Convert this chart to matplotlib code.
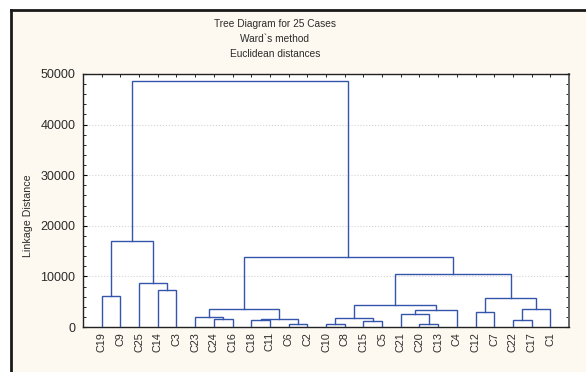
import matplotlib
matplotlib.use("Agg")
import matplotlib.pyplot as plt
from matplotlib.patches import Rectangle

# leaf labels in display order
labels = ["C19", "C9", "C25", "C14", "C3", "C23", "C24", "C16", "C18", "C11",
          "C6", "C2", "C10", "C8", "C15", "C5", "C21", "C20", "C13", "C4",
          "C12", "C7", "C22", "C17", "C1"]

# merges: ids 0..24 are leaves, each merge creates id 25, 26, ...
merge_a = [0, 3, 2, 25, 6, 5, 8, 10, 31, 30, 12, 14, 35, 17, 16, 39, 37, 20, 22, 43, 42, 41, 34, 28]
merge_b = [1, 4, 26, 27, 7, 29, 9, 11, 32, 33, 13, 15, 36, 18, 38, 19, 40, 21, 23, 24, 44, 45, 46, 47]
merge_h = [6070, 7380, 8700, 16930, 1520, 1980, 1320, 650, 1650, 3620, 650, 1250, 1840,
           650, 2570, 3360, 4280, 2900, 1380, 3560, 5670, 10410, 13770, 48560]

line_col = "#3355aa"
text_col = "#2b2b2b"
plt.rcParams["font.family"] = ["Liberation Sans", "DejaVu Sans"]
plt.rcParams["text.color"] = text_col
plt.rcParams["xtick.labelcolor"] = text_col
plt.rcParams["ytick.labelcolor"] = text_col

fig = plt.figure(figsize=(5.86, 3.72), dpi=100)
fig.patch.set_facecolor("white")

# cream panel with black top/left border
W, H = 586, 372
fig.patches.append(Rectangle((11 / W, 0), 1, 1 - 10 / H, transform=fig.transFigure,
                             facecolor="#fdf9f0", edgecolor="none", zorder=-10))
fig.add_artist(plt.Line2D([11 / W, 1], [1 - 10 / H] * 2, transform=fig.transFigure,
                          color="#1a1a1a", lw=2, zorder=-5))
fig.add_artist(plt.Line2D([11 / W] * 2, [0, 1 - 10 / H], transform=fig.transFigure,
                          color="#1a1a1a", lw=2, zorder=-5))

ax = fig.add_axes([83 / W, 45 / H, 486 / W, 253 / H])
ax.set_facecolor("white")

# positions / heights of every node
xpos = {i: i + 1 for i in range(len(labels))}
hgt = {i: 0 for i in range(len(labels))}
for k, (a, b, h) in enumerate(zip(merge_a, merge_b, merge_h)):
    nid = len(labels) + k
    ax.plot([xpos[a], xpos[a], xpos[b], xpos[b]], [hgt[a], h, h, hgt[b]],
            color=line_col, lw=1.0, solid_joinstyle="miter", zorder=3)
    xpos[nid] = (xpos[a] + xpos[b]) / 2
    hgt[nid] = h

ax.set_xlim(0, len(labels) + 1)
ax.set_ylim(0, 50000)
ax.set_xticks(range(1, len(labels) + 1))
ax.set_xticklabels(labels, rotation=90, fontsize=7.8)
ax.set_yticks(range(0, 50001, 10000))
ax.set_yticks(range(0, 50001, 2000), minor=True)
ax.tick_params(axis="y", which="major", direction="in", length=3, width=0.8,
               labelsize=9, pad=5.5, right=True)
ax.tick_params(axis="y", which="minor", direction="in", length=2, width=0.6, right=True)
ax.tick_params(axis="x", direction="in", length=2.5, width=0.6, top=True, pad=3.5)
ax.grid(axis="y", which="major", linestyle=":", color="#d4d4d4", lw=0.8)
for s in ax.spines.values():
    s.set_color("#222222")
    s.set_linewidth(1.0)
ax.spines["right"].set_color("#666666")
ax.spines["right"].set_linewidth(1.4)

fig.text(275 / W, 1 - 24 / H, "Tree Diagram for 25 Cases", ha="center", va="center", fontsize=7.3)
fig.text(275 / W, 1 - 39 / H, "Ward`s method", ha="center", va="center", fontsize=7.3)
fig.text(275 / W, 1 - 54 / H, "Euclidean distances", ha="center", va="center", fontsize=7.3)
fig.text(28 / W, 1 - 216 / H, "Linkage Distance", rotation=90, ha="center", va="center",
         fontsize=7.7)

fig.savefig("out.png", dpi=100)
